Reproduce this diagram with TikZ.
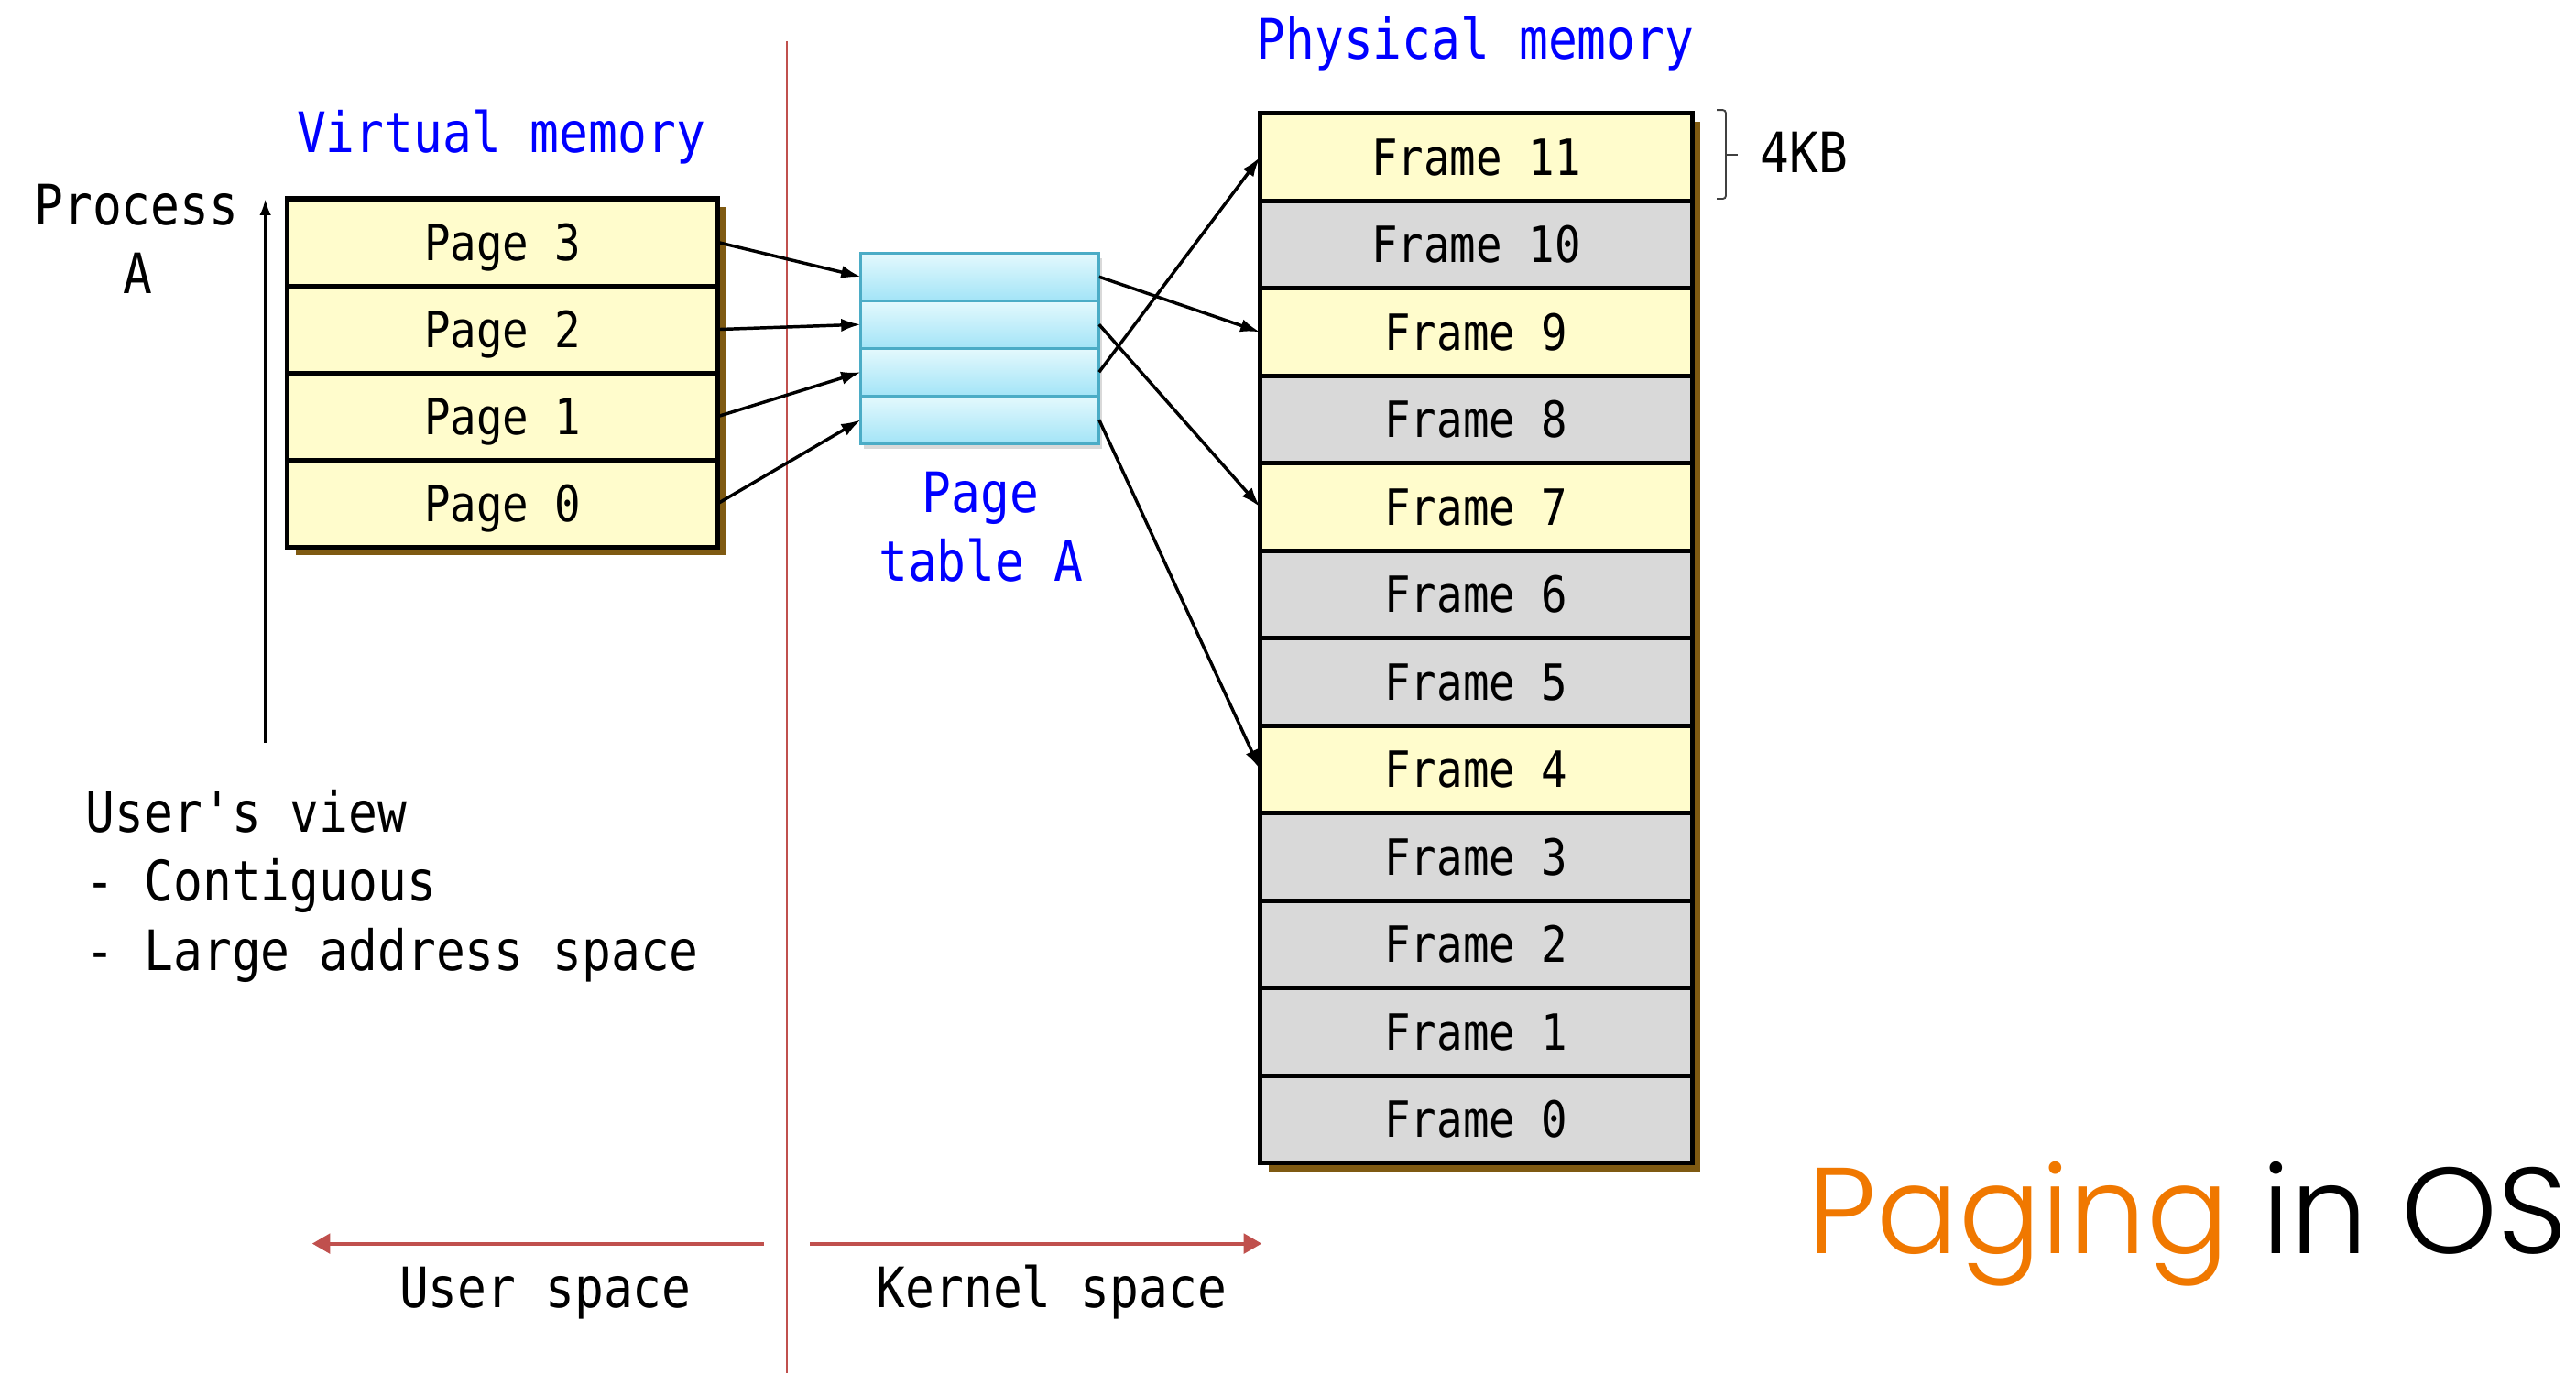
\documentclass[tikz,border=0pt]{standalone}
\usepackage{fontspec}
\newfontfamily\codefont{DejaVu Sans Mono}[FakeStretch=0.87, Ligatures=TeXOff]
\newfontfamily\titlefont{Poppins Light}
\usetikzlibrary{arrows.meta,backgrounds,calc}

\definecolor{cellyellow}{HTML}{FFFCCC}
\definecolor{cellgray}{HTML}{D9D9D9}
\definecolor{shadowbrown}{HTML}{7F5A12}
\definecolor{divred}{HTML}{C0504D}
\definecolor{ptborder}{HTML}{4BACC6}
\definecolor{pttop}{HTML}{E4F9FD}
\definecolor{ptbottom}{HTML}{A3E4F7}
\definecolor{titleorange}{HTML}{F07800}
\definecolor{labelblue}{HTML}{0000FF}

\newcommand\cellfont{\codefont\fontsize{17.3}{20}\selectfont}
\newcommand\notefont{\codefont\fontsize{19.3}{23.9}\selectfont}

\tikzset{
  cell/.style={draw=black, line width=1.6pt, inner sep=0pt, outer sep=0pt,
    font=\cellfont, text height=12.6pt, text depth=0pt},
  pagecell/.style={cell, fill=cellyellow, minimum width=5.24cm, minimum height=1.06cm},
  framecell/.style={cell, minimum width=5.26cm, minimum height=1.065cm},
  ptrow/.style={draw=ptborder, line width=1pt, top color=pttop, bottom color=ptbottom,
    minimum width=2.9cm, minimum height=0.58cm, inner sep=0pt, outer sep=0pt},
  bluetext/.style={font=\notefont, text=labelblue, inner sep=0pt},
  notetext/.style={font=\notefont, text=black, inner sep=0pt},
  link/.style={-{Latex[length=0.24cm,width=0.16cm]}, line width=1.1pt},
  spacearrow/.style={draw=divred, line width=1.3pt, -{Triangle[length=0.22cm,width=0.24cm]}},
}

\begin{document}
\begin{tikzpicture}[x=0.02cm, y=-0.02cm]
  \begin{scope}[on background layer]
    \fill[white] (0,0) rectangle (1568,836);
  \end{scope}
  \useasboundingbox (0,0) rectangle (1568,836);

  % user / kernel divider
  \coordinate (divtop) at (479,25);
  \coordinate (divbot) at (479,836);
  \draw[divred, line width=0.9pt] (divtop) -- (divbot);

  % virtual memory of process A
  \node[pagecell] (p3) at (306,147.5) {Page 3};
  \node[pagecell] (p2) at (306,200.5) {Page 2};
  \node[pagecell] (p1) at (306,253.5) {Page 1};
  \node[pagecell] (p0) at (306,306.5) {Page 0};

  % page table A
  \node[ptrow] (t1) at (596.5,168.5) {};
  \node[ptrow] (t2) at (596.5,197.5) {};
  \node[ptrow] (t3) at (596.5,226.5) {};
  \node[ptrow] (t4) at (596.5,255.5) {};

  % physical memory frames
  \foreach \k/\c in {11/cellyellow,10/cellgray,9/cellyellow,8/cellgray,7/cellyellow,
                     6/cellgray,5/cellgray,4/cellyellow,3/cellgray,2/cellgray,1/cellgray,0/cellgray}
    \node[framecell, fill=\c] (f\k) at (898.5,{69+(11-\k+0.5)*53.25}) {Frame \k};

  % drop shadows
  \begin{scope}[on background layer]
    \fill[shadowbrown] ([shift={(5,5)}]p3.north west) rectangle ([shift={(5,5)}]p0.south east);
    \fill[shadowbrown] ([shift={(5,5)}]f11.north west) rectangle ([shift={(5,5)}]f0.south east);
    \fill[black!15] ([shift={(2,3)}]t1.north west) rectangle ([shift={(2,3)}]t4.south east);
  \end{scope}

  % titles
  \node[bluetext, anchor=base] (vm) at (305,93) {Virtual memory};
  \node[bluetext, anchor=base] (pm) at (898,36) {Physical memory};
  \node[bluetext, anchor=base, align=center] (ptlabel) at (597,354) {Page\\table A};

  % process axis
  \node[notetext, anchor=base] (proc) at (83,137) {Process};
  \node[notetext, anchor=base] (procA) at (84,178.5) {A};
  \coordinate (axbot) at (161.5,452);
  \draw[-{Latex[length=0.2cm,width=0.14cm]}, line width=1pt] (axbot) -- (axbot |- p3.north);

  \node[notetext, anchor=base west, align=left] (view) at (52,590.5)
    {User's view\\- Contiguous\\- Large address space};

  % page -> page table entries
  \draw[link] (p3.east) -- (t1.west);
  \draw[link] (p2.east) -- (t2.west);
  \draw[link] (p1.east) -- (t3.west);
  \draw[link] (p0.east) -- (t4.west);

  % page table entries -> frames
  \draw[link] (t1.east) -- (f9.west);
  \draw[link] (t2.east) -- (f7.west);
  \draw[link] (t3.east) -- (f11.west);
  \draw[link] (t4.east) -- (f4.west);

  % frame size brace
  \draw[black!75, line width=0.6pt, rounded corners=1pt]
    (1045,67) -- (1050.5,67) -- (1050.5,121) -- (1045,121);
  \draw[black!75, line width=0.6pt] (1050.5,94) -- (1058,94);
  \node[notetext, anchor=base west] (kb) at (1071,105) {4KB};

  % user / kernel space arrows
  \coordinate (usstart) at (465,757);
  \coordinate (usend) at (190,757);
  \coordinate (ksstart) at (493,757);
  \coordinate (ksend) at (768,757);
  \draw[spacearrow] (usstart) -- (usend);
  \draw[spacearrow] (ksstart) -- (ksend);
  \node[notetext, anchor=base] (us) at (332,796) {User space};
  \node[notetext, anchor=base] (ks) at (640,796) {Kernel space};

  % heading
  \node[anchor=base west, inner sep=0pt, font=\titlefont\fontsize{42.3}{50}\selectfont]
    (title) at (1100,763) {\textcolor{titleorange}{Paging} in OS};
\end{tikzpicture}
\end{document}
